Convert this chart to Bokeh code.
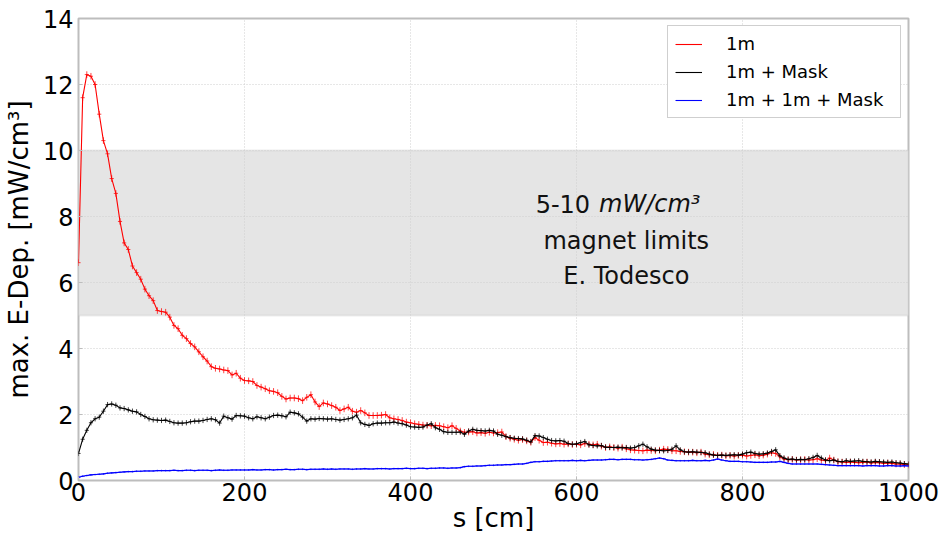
from bokeh.plotting import figure
from bokeh.models import (BoxAnnotation, Label, Legend, LegendItem,
                          ColumnDataSource, Range1d, FixedTicker)
from bokeh.embed import file_html
from bokeh.resources import INLINE

# ---------------- data (5 cm bins) ----------------
STEP_CM = 5
x_ticks = [0, 200, 400, 600, 800, 1000]
y_ticks = [0, 2, 4, 6, 8, 10, 12, 14]

red_1m = [
    6.6, 11.6, 12.3, 12.25, 12.0, 11.1, 10.3, 9.9, 9.15, 8.7, 7.85, 7.2, 7.0, 6.5, 6.3, 6.1, 5.8, 5.6, 5.45, 5.15,
    5.12, 5.1, 4.95, 4.7, 4.6, 4.4, 4.3, 4.15, 4.05, 3.9, 3.75, 3.62, 3.45, 3.4, 3.38, 3.35, 3.33, 3.2, 3.25, 3.1,
    3.03, 3.02, 3.0, 2.88, 2.83, 2.78, 2.72, 2.7, 2.66, 2.55, 2.47, 2.5, 2.5, 2.48, 2.42, 2.52, 2.6, 2.38, 2.24, 2.35,
    2.32, 2.27, 2.22, 2.12, 2.17, 2.22, 2.1, 2.07, 2.12, 2.05, 1.97, 1.97, 1.97, 1.98, 2.0, 1.9, 1.87, 1.85, 1.82, 1.77,
    1.75, 1.72, 1.7, 1.68, 1.67, 1.66, 1.67, 1.66, 1.63, 1.6, 1.66, 1.58, 1.5, 1.46, 1.47, 1.48, 1.44, 1.45, 1.43, 1.46,
    1.44, 1.45, 1.47, 1.33, 1.28, 1.25, 1.22, 1.24, 1.2, 1.16, 1.3, 1.22, 1.15, 1.16, 1.13, 1.11, 1.12, 1.1, 1.11, 1.09,
    1.1, 1.08, 1.12, 1.1, 1.08, 1.1, 1.04, 1.0, 1.02, 1.0, 0.98, 1.01, 0.96, 0.93, 0.92, 0.91, 0.9, 0.92, 0.91, 0.9,
    0.92, 0.95, 0.94, 0.9, 0.9, 0.88, 0.87, 0.86, 0.86, 0.84, 0.86, 0.8, 0.78, 0.79, 0.76, 0.77, 0.75, 0.76, 0.74, 0.76,
    0.77, 0.74, 0.76, 0.78, 0.75, 0.77, 0.8, 0.84, 0.82, 0.72, 0.65, 0.63, 0.64, 0.62, 0.63, 0.64, 0.62, 0.63, 0.66, 0.62,
    0.6, 0.68, 0.62, 0.57, 0.56, 0.55, 0.56, 0.55, 0.54, 0.55, 0.56, 0.53, 0.55, 0.54, 0.52, 0.53, 0.52, 0.5, 0.5, 0.48, 0.47,
]

black_1m_mask = [
    0.82, 1.25, 1.52, 1.75, 1.87, 1.92, 2.1, 2.3, 2.32, 2.28, 2.2, 2.18, 2.14, 2.1, 2.08, 2.0, 1.94, 1.87, 1.84, 1.83,
    1.82, 1.83, 1.79, 1.75, 1.74, 1.74, 1.75, 1.78, 1.8, 1.8, 1.82, 1.85, 1.87, 1.84, 1.74, 1.95, 1.9, 1.86, 1.97, 1.96,
    1.95, 1.9, 1.87, 1.93, 1.9, 1.87, 1.92, 1.97, 1.98, 1.96, 1.93, 2.07, 2.05, 2.02, 1.92, 1.8, 1.87, 1.86, 1.88, 1.87,
    1.86, 1.87, 1.85, 1.83, 1.85, 1.87, 1.9, 1.98, 1.75, 1.7, 1.67, 1.72, 1.74, 1.74, 1.75, 1.75, 1.77, 1.74, 1.72, 1.68,
    1.63, 1.62, 1.61, 1.62, 1.68, 1.72, 1.6, 1.55, 1.48, 1.46, 1.46, 1.46, 1.47, 1.4, 1.5, 1.55, 1.52, 1.51, 1.5, 1.52,
    1.5, 1.4, 1.37, 1.33, 1.3, 1.28, 1.27, 1.26, 1.22, 1.17, 1.36, 1.35, 1.3, 1.25, 1.21, 1.2, 1.21, 1.19, 1.12, 1.1,
    1.11, 1.15, 1.18, 1.08, 1.06, 1.05, 1.06, 1.01, 1.0, 1.0, 1.01, 0.99, 1.0, 0.98, 1.0, 1.05, 1.1, 1.02, 0.95, 0.92,
    0.91, 0.9, 0.91, 0.95, 1.05, 0.93, 0.87, 0.86, 0.87, 0.86, 0.85, 0.84, 0.8, 0.77, 0.76, 0.77, 0.76, 0.77, 0.78, 0.77,
    0.8, 0.84, 0.86, 0.82, 0.8, 0.81, 0.83, 0.88, 0.93, 0.75, 0.68, 0.64, 0.65, 0.63, 0.64, 0.63, 0.66, 0.7, 0.76, 0.68,
    0.62, 0.6, 0.62, 0.58, 0.57, 0.6, 0.58, 0.59, 0.6, 0.58, 0.57, 0.56, 0.58, 0.57, 0.56, 0.55, 0.56, 0.54, 0.53, 0.51, 0.5,
]

blue_1m_1m_mask = [
    0.1, 0.13, 0.15, 0.17, 0.18, 0.19, 0.2, 0.22, 0.23, 0.24, 0.25, 0.26, 0.27, 0.27, 0.28, 0.28, 0.29, 0.29, 0.29, 0.3,
    0.3, 0.3, 0.3, 0.31, 0.3, 0.3, 0.31, 0.31, 0.3, 0.31, 0.31, 0.31, 0.3, 0.31, 0.32, 0.31, 0.31, 0.32, 0.32, 0.32,
    0.32, 0.32, 0.33, 0.32, 0.32, 0.33, 0.33, 0.32, 0.33, 0.33, 0.34, 0.33, 0.33, 0.34, 0.34, 0.33, 0.34, 0.34, 0.34, 0.35,
    0.34, 0.35, 0.34, 0.35, 0.35, 0.35, 0.34, 0.35, 0.35, 0.36, 0.35, 0.35, 0.36, 0.36, 0.36, 0.35, 0.36, 0.36, 0.36, 0.37,
    0.36, 0.36, 0.37, 0.37, 0.36, 0.37, 0.37, 0.38, 0.38, 0.37, 0.38, 0.38, 0.39, 0.42, 0.43, 0.43, 0.44, 0.44, 0.45, 0.46,
    0.46, 0.47, 0.47, 0.48, 0.48, 0.49, 0.5, 0.5, 0.52, 0.55, 0.57, 0.57, 0.58, 0.58, 0.59, 0.6, 0.6, 0.6, 0.6, 0.61,
    0.6, 0.61, 0.6, 0.61, 0.62, 0.62, 0.62, 0.63, 0.64, 0.64, 0.63, 0.64, 0.64, 0.64, 0.63, 0.63, 0.62, 0.63, 0.64, 0.66,
    0.68, 0.66, 0.62, 0.61, 0.6, 0.6, 0.6, 0.6, 0.61, 0.6, 0.6, 0.61, 0.6, 0.62, 0.65, 0.62, 0.6, 0.58, 0.58, 0.58,
    0.57, 0.57, 0.56, 0.55, 0.55, 0.55, 0.55, 0.56, 0.56, 0.58, 0.55, 0.52, 0.5, 0.5, 0.5, 0.5, 0.5, 0.5, 0.5, 0.49,
    0.48, 0.47, 0.46, 0.45, 0.45, 0.45, 0.45, 0.45, 0.45, 0.44, 0.45, 0.45, 0.45, 0.44, 0.44, 0.45, 0.45, 0.44, 0.44, 0.45, 0.44,
]

# estimated statistical error (half-height of the error bars)
red_err = 0.1
black_err = 0.08
blue_err = 0.025

labels = ["1m", "1m + Mask", "1m + 1m + Mask"]
colors = ["#ff0000", "#000000", "#0000ff"]

# ---------------- figure ----------------
FONT = "DejaVu Sans"
p = figure(width=946, height=535, output_backend="svg", toolbar_location=None,
           x_range=Range1d(0, 1000), y_range=Range1d(0, 14),
           min_border_left=78, min_border_right=38, min_border_top=18, min_border_bottom=55,
           background_fill_color="white", border_fill_color="white")

p.outline_line_color = "#bdbdbd"
p.outline_line_width = 2

p.xaxis.ticker = FixedTicker(ticks=x_ticks)
p.yaxis.ticker = FixedTicker(ticks=y_ticks)
for ax in (p.xaxis, p.yaxis):
    ax.axis_line_color = None
    ax.major_tick_in = 4
    ax.major_tick_out = 0
    ax.major_tick_line_color = "#bdbdbd"
    ax.minor_tick_line_color = None
    ax.major_label_text_font = FONT
    ax.major_label_text_font_size = "24px"
    ax.major_label_text_color = "#000000"
    ax.axis_label_text_font = FONT
    ax.axis_label_text_font_size = "26px"
    ax.axis_label_text_font_style = "normal"
    ax.axis_label_text_color = "#000000"

p.xaxis.axis_label = "s [cm]"
p.yaxis.axis_label = "max. E-Dep. [mW/cm³]"
p.xaxis.major_label_standoff = 2
p.xaxis.axis_label_standoff = -1
p.yaxis.major_label_standoff = 5
p.yaxis.axis_label_standoff = 6

for g in (p.xgrid, p.ygrid):
    g.grid_line_color = "#cfcfcf"
    g.grid_line_dash = "1 2"
    g.grid_line_width = 1

# magnet-limit band
band = BoxAnnotation(bottom=5, top=10, fill_color="#e5e5e5", fill_alpha=1.0,
                     line_color="#c2c2c2", line_width=2, level="image")
p.add_layout(band)

# annotation text
TXT_X = 660
TXT_SIZE = "24px"
p.add_layout(Label(x=620, y=8.39, text="5-10", text_align="right", text_baseline="middle",
                   x_offset=-3, text_font=FONT, text_font_size=TXT_SIZE, text_color="#111111"))
p.add_layout(Label(x=620, y=8.39, text="mW/cm³", text_align="left", text_baseline="middle",
                   x_offset=6, text_font=FONT, text_font_size=TXT_SIZE, text_font_style="italic",
                   text_color="#111111"))
p.add_layout(Label(x=TXT_X, y=7.27, text="magnet limits", text_align="center", text_baseline="middle",
                   text_font=FONT, text_font_size=TXT_SIZE, text_color="#111111"))
p.add_layout(Label(x=TXT_X, y=6.21, text="E. Todesco", text_align="center", text_baseline="middle",
                   text_font=FONT, text_font_size=TXT_SIZE, text_color="#111111"))

items = []
for vals, err, lab, col in zip([red_1m, black_1m_mask, blue_1m_1m_mask],
                               [red_err, black_err, blue_err], labels, colors):
    xs = [STEP_CM * i for i in range(len(vals))]
    src = ColumnDataSource(dict(
        x=xs, y=vals,
        ylo=[v - err for v in vals], yhi=[v + err for v in vals],
        xlo=[x - STEP_CM / 2 for x in xs], xhi=[x + STEP_CM / 2 for x in xs],
    ))
    p.segment(x0="x", y0="ylo", x1="x", y1="yhi", source=src, line_color=col,
              line_width=1, line_alpha=0.75)
    p.segment(x0="xlo", y0="y", x1="xhi", y1="y", source=src, line_color=col,
              line_width=1, line_alpha=0.75)
    r = p.line("x", "y", source=src, line_color=col, line_width=1.1)
    items.append(LegendItem(label=lab, renderers=[r]))

legend = Legend(items=items, location="top_right", margin=7, padding=7, spacing=7,
                glyph_width=27, glyph_height=20, label_height=20, label_standoff=24,
                label_width=167,
                label_text_font=FONT, label_text_font_size="18px", label_text_color="#000000",
                border_line_color="#a0a0a0", border_line_width=1.5,
                background_fill_color="white", background_fill_alpha=1.0)
p.add_layout(legend)

open("out.html", "w").write(file_html(p, INLINE))
